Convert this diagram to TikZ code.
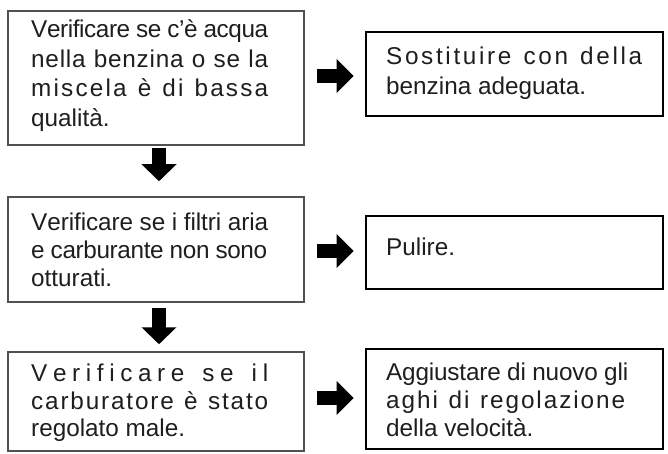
\documentclass[tikz,border=0pt]{standalone}
\usepackage{fontspec}
\setmainfont{Liberation Sans}
\usetikzlibrary{arrows.meta}
\newskip\spglue \spglue=0pt plus 1fil minus 1fil
\newskip\spneg \spneg=0pt plus -1fil minus -1fil
\ExplSyntaxOn
\cs_new:Npn \__sp_space: { \space }
\NewDocumentCommand \spreadline { m m }
 {
  \tl_set:Nn \l_tmpa_tl {#2}
  \tl_replace_all:Nnn \l_tmpa_tl { ~ } { \__sp_space: }
  \hbox to #1 { \hskip\spneg
    \tl_map_inline:Nn \l_tmpa_tl { \hskip\spglue ##1 } }
 }
\ExplSyntaxOff
\definecolor{txt}{HTML}{1E1E1E}
\definecolor{lline}{HTML}{505050}
\tikzset{
  lbox/.style={draw=lline, line width=1.5pt, inner sep=0pt, minimum width=296pt},
  rbox/.style={draw=black, line width=2.6pt, inner sep=0pt, minimum width=297pt},
  txtnode/.style={anchor=base west, inner sep=0pt, text=txt, font=\fontsize{24.3}{29}\selectfont},
  harrow/.style={line width=13.5pt, -{Triangle[length=17pt,width=33pt]}},
  varrow/.style={line width=13.5pt, -{Triangle[length=17pt,width=34pt]}}
}
\begin{document}
\begin{tikzpicture}[x=1pt,y=-1pt]
\useasboundingbox (0,0) rectangle (668,454);
% boxes
\node[lbox, minimum height=134pt] (b1) at (156,78) {};
\node[rbox, minimum height=84pt] (b2) at (514.5,74) {};
\node[lbox, minimum height=105pt] (b3) at (156,249.5) {};
\node[rbox, minimum height=73pt] (b4) at (514.5,252.5) {};
\node[lbox, minimum height=99pt] (b5) at (156,401.5) {};
\node[rbox, minimum height=100pt] (b6) at (514.5,399) {};
% texts
\node[txtnode] (t1) at (31,37.7) {\vtop{\baselineskip=29.5pt
  \spreadline{237pt}{Verificare se c'è acqua}
  \spreadline{237pt}{nella benzina o se la}
  \spreadline{237pt}{miscela è di bassa}
  \hbox{qualità.}}};
\node[txtnode] (t2) at (386,65) {\vtop{\baselineskip=30pt
  \spreadline{256pt}{Sostituire con della}
  \hbox{benzina adeguata.}}};
\node[txtnode] (t3) at (31,230.5) {\vtop{\baselineskip=27.8pt
  \spreadline{237pt}{Verificare se i filtri aria}
  \spreadline{236pt}{e carburante non sono}
  \hbox{otturati.}}};
\node[txtnode] (t4) at (386,255) {Pulire.};
\node[txtnode] (t5) at (31,381.7) {\vtop{\baselineskip=27.5pt
  \spreadline{237pt}{Verificare se il}
  \spreadline{237pt}{carburatore è stato}
  \hbox{regolato male.}}};
\node[txtnode] (t6) at (386,380) {\vtop{\baselineskip=28.3pt
  \spreadline{242pt}{Aggiustare di nuovo gli}
  \spreadline{239pt}{aghi di regolazione}
  \hbox{della velocità.}}};
% arrows
\draw[harrow] ([shift={(12,-2)}]b1.east) -- ([shift={(-11,2)}]b2.west);
\draw[harrow] ([shift={(12,1.5)}]b3.east) -- ([shift={(-11,-1.5)}]b4.west);
\draw[harrow] ([shift={(12,-3.5)}]b5.east) -- ([shift={(-11,-1)}]b6.west);
\draw[varrow] ([shift={(3,2)}]b1.south) -- ([shift={(3,-15)}]b3.north);
\draw[varrow] ([shift={(3,5)}]b3.south) -- ([shift={(3,-7)}]b5.north);
\end{tikzpicture}
\end{document}
